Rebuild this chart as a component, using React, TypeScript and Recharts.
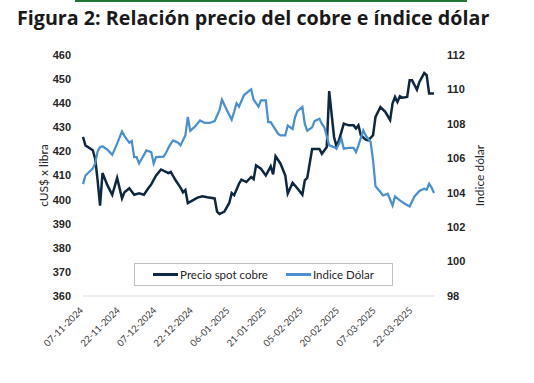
import { Legend, Line, LineChart, XAxis, YAxis } from "recharts";

// days counted from 07-11-2024
const tickDays = [0, 15, 30, 45, 60, 75, 90, 105, 120, 135];
const tickLabels = [
	"07-11-2024",
	"22-11-2024",
	"07-12-2024",
	"22-12-2024",
	"06-01-2025",
	"21-01-2025",
	"05-02-2025",
	"20-02-2025",
	"07-03-2025",
	"22-03-2025",
];

const leftTicks = [360, 370, 380, 390, 400, 410, 420, 430, 440, 450, 460];
const rightTicks = [98, 100, 102, 104, 106, 108, 110, 112];
const legendOrder = ["Precio spot cobre", "Indice Dólar"];

const copperDays = [
	0, 1, 4, 5, 6, 7, 8, 10, 12, 14, 16, 17, 19, 21, 23, 25, 27, 28, 30, 32, 34,
	35, 36, 38, 40, 41, 42, 43, 45, 47, 49, 51, 54, 55, 56, 58, 60, 61, 62, 64,
	65, 67, 69, 70, 71, 73, 75, 77, 78, 79, 81, 83, 84, 86, 88, 90, 91, 92, 94,
	95, 97, 98, 100, 101, 103, 104, 105, 107, 109, 111, 112, 113, 114, 116, 117,
	119, 120, 122, 124, 126, 127, 128, 129, 130, 131, 133, 134, 135, 137, 138,
	140, 141, 142, 144,
];
const copperValues = [
	426, 422.5, 420.5, 417, 408, 397.5, 411, 406, 402, 409, 400.5, 403, 404.7,
	402, 402.6, 402, 405, 406.3, 410, 412.5, 411.5, 411, 411.5, 408, 405, 403,
	404, 398.6, 399.7, 400.8, 401.4, 401, 400.5, 395, 394, 395, 398.6, 402.7,
	401.8, 406.6, 408.3, 407.3, 409.4, 408.5, 414.2, 412.8, 410, 413.8, 410.5,
	418, 415, 410, 402.5, 407, 404.6, 402, 408, 409, 421, 421, 421, 419, 421.8,
	445, 426, 422, 424.6, 431.5, 430.8, 430.8, 429.5, 430.8, 426.7, 424.9, 424.6,
	426.7, 434.3, 438.4, 436.4, 433, 440, 442.6, 440.5, 442.9, 442.3, 442.6,
	449.5, 449.5, 445.6, 448.8, 452.5, 451.6, 444, 444,
];

const dollarDays = [
	0, 1, 4, 5, 6, 7, 8, 10, 12, 14, 16, 17, 19, 20, 21, 22, 23, 25, 26, 28, 29,
	30, 33, 34, 35, 36, 37, 39, 40, 42, 43, 44, 46, 48, 50, 52, 54, 56, 57, 59,
	61, 62, 63, 64, 66, 68, 69, 70, 71, 72, 73, 75, 76, 77, 80, 81, 83, 84, 86,
	87, 88, 90, 91, 92, 94, 95, 97, 98, 99, 101, 103, 104, 106, 107, 109, 111,
	112, 113, 115, 116, 118, 119, 120, 122, 123, 125, 127, 128, 130, 132, 134,
	136, 138, 140, 141, 142, 143, 144,
];
const dollarValues = [
	104.5, 105, 105.4, 105.7, 106.4, 106.65, 106.7, 106.5, 106.2, 106.85,
	107.56, 107.3, 106.9, 107.0, 106.07, 106.07, 105.7, 106.2, 106.46, 106.36,
	105.7, 106.07, 106.1, 106.3, 106.6, 106.85, 107.04, 106.9, 106.75, 107.33,
	108.4, 107.6, 107.85, 108.2, 108.05, 108.05, 108.16, 108.8, 109.4, 108.8,
	108.24, 108.7, 109.2, 109.0, 109.66, 109.9, 110.0, 109.4, 109.2, 109.0,
	109.37, 109.37, 108.1, 108.1, 107.43, 107.33, 107.33, 107.9, 107.7, 108.4,
	108.75, 108.98, 108.0, 107.6, 107.8, 108.16, 108.3, 108.0, 107.8, 106.75,
	106.65, 106.56, 107.14, 106.56, 106.6, 106.6, 106.36, 106.75, 107.62,
	107.33, 106.94, 105.88, 104.37, 104.04, 103.84, 103.94, 103.26, 103.78,
	103.55, 103.36, 103.2, 103.78, 104.1, 104.23, 104.17, 104.52, 104.3, 103.98,
];

const copperData = copperDays.map((day, i) => ({ day, cobre: copperValues[i] }));
const dollarData = dollarDays.map((day, i) => ({ day, dolar: dollarValues[i] }));

const COPPER = "#0e2841";
const DOLLAR = "#4a8fd0";
const axisTick = {
	fontSize: 11,
	fontWeight: 700,
	fill: "#262626",
	fontFamily: "Liberation Sans, Arial, sans-serif",
};

const DateTick = ({ x, y, payload }: any) => {
	const idx = tickDays.indexOf(payload.value);
	return (
		<g transform={`translate(${x + 1},${y + 7})`}>
			<text
				x={0}
				y={0}
				textAnchor="end"
				transform="rotate(-45)"
				fill="#404040"
				fontSize={9.5}
				fontFamily="Lato, sans-serif"
			>
				{tickLabels[idx]}
			</text>
		</g>
	);
};

const LegendBox = ({ payload }: any) => {
	const items = legendOrder
		.map((name) => (payload ?? []).find((p: any) => p.value === name))
		.filter(Boolean);
	return (
		<div
			style={{
				border: "1px solid #bfbfbf",
				background: "#fff",
				height: 21,
				display: "flex",
				alignItems: "center",
				justifyContent: "center",
				gap: 18,
				fontFamily: "Lato, sans-serif",
				fontSize: 11.5,
				color: "#262626",
			}}
		>
			{items.map((entry: any) => (
				<span key={entry.value} style={{ display: "flex", alignItems: "center" }}>
					<span
						style={{
							display: "inline-block",
							width: 25,
							height: 2.5,
							background: entry.color,
							marginRight: 2,
						}}
					/>
					{entry.value}
				</span>
			))}
		</div>
	);
};

export default function App() {
	return (
		<div
			style={{
				position: "absolute",
				left: 0,
				top: 0,
				width: 534,
				height: 383,
				background: "#fff",
			}}
		>
			<div
				style={{
					position: "absolute",
					left: 75,
					top: 0,
					width: 392,
					height: 2,
					background: "#23763a",
				}}
			/>
			<div
				style={{
					position: "absolute",
					left: 17,
					top: 6,
					lineHeight: "24px",
					fontFamily: "Open Sans, sans-serif",
					fontWeight: 700,
					fontSize: 19.7,
					color: "#1a1a1a",
					whiteSpace: "nowrap",
				}}
			>
				Figura 2: Relación precio del cobre e índice dólar
			</div>
			<LineChart
				width={534}
				height={383}
				margin={{ top: 55, right: 40, left: 0, bottom: 27 }}
			>
				<XAxis
					type="number"
					dataKey="day"
					domain={[0, 144]}
					ticks={tickDays}
					interval={0}
					allowDuplicatedCategory={false}
					height={60}
					axisLine={{ stroke: "#d9d9d9" }}
					tickLine={false}
					tick={<DateTick />}
				/>
				<YAxis
					yAxisId="left"
					domain={[360, 460]}
					ticks={leftTicks}
					width={83}
					axisLine={false}
					tickLine={false}
					tickSize={0}
					tickMargin={12}
					tick={axisTick}
					label={{
						value: "cUS$ x libra",
						angle: -90,
						position: "insideLeft",
						offset: 44,
						style: {
							textAnchor: "middle",
							fontSize: 12,
							fill: "#262626",
							fontFamily: "Lato, sans-serif",
						},
					}}
				/>
				<YAxis
					yAxisId="right"
					orientation="right"
					domain={[98, 112]}
					ticks={rightTicks}
					width={60}
					axisLine={false}
					tickLine={false}
					tickSize={0}
					tickMargin={13}
					tick={axisTick}
					label={{
						value: "Indice dólar",
						angle: -90,
						position: "insideRight",
						offset: 14,
						style: {
							textAnchor: "middle",
							fontSize: 12,
							fill: "#262626",
							fontFamily: "Lato, sans-serif",
						},
					}}
				/>
				<Legend
					layout="horizontal"
					verticalAlign="middle"
					content={<LegendBox />}
					wrapperStyle={{ top: 263, left: 134, width: 259, height: 23 }}
				/>
				<Line
					yAxisId="left"
					data={copperData}
					dataKey="cobre"
					name="Precio spot cobre"
					type="linear"
					stroke={COPPER}
					strokeWidth={2.5}
					dot={false}
					isAnimationActive={false}
				/>
				<Line
					yAxisId="right"
					data={dollarData}
					dataKey="dolar"
					name="Indice Dólar"
					type="linear"
					stroke={DOLLAR}
					strokeWidth={2.25}
					dot={false}
					isAnimationActive={false}
				/>
			</LineChart>
		</div>
	);
}
